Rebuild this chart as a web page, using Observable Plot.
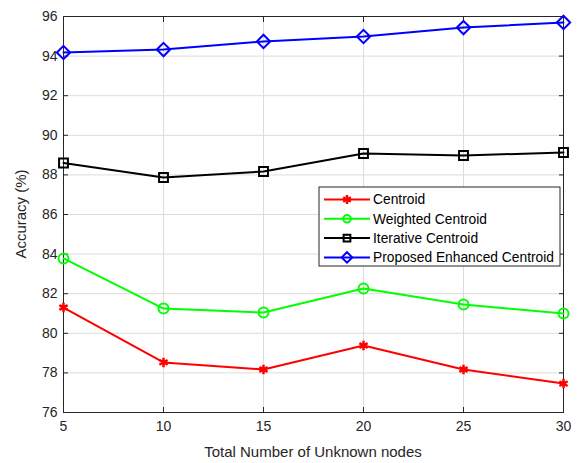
<!DOCTYPE html>
<html><head><meta charset="utf-8">
<script src="https://cdn.jsdelivr.net/npm/d3@7"></script>
<script src="https://cdn.jsdelivr.net/npm/@observablehq/plot@0.6"></script>
<style>body{margin:0;background:#fff;font-family:"Liberation Sans",Arial,sans-serif}</style>
</head><body><div id="chart"></div>
<script>
const nodes = [5, 10, 15, 20, 25, 30];
const seriesNames = ["Centroid", "Weighted Centroid", "Iterative Centroid", "Proposed Enhanced Centroid"];
const centroid = [81.3, 78.53, 78.17, 79.38, 78.17, 77.46];
const weighted = [83.78, 81.25, 81.05, 82.26, 81.45, 81.0];
const iterative = [88.6, 87.87, 88.17, 89.08, 88.98, 89.13];
const proposed = [94.18, 94.33, 94.74, 94.99, 95.44, 95.7];
const yTicks = [76, 78, 80, 82, 84, 86, 88, 90, 92, 94, 96];
const xTicks = [5, 10, 15, 20, 25, 30];

const colors = ["#ff0000", "#00ff00", "#000000", "#0000ff"];
const symbols = ["asterisk", "circle", "square", "diamond2"];
const allVals = [centroid, weighted, iterative, proposed];
const data = [];
seriesNames.forEach((s, i) => nodes.forEach((n, j) => data.push({series: s, x: n, y: allVals[i][j]})));

const W = 579, H = 463;
const ml = 63, mr = 16, mt = 16, mb = 51;
const axisColor = "#262626";

const inward = (anchor) => anchor === "left" || anchor === "right"
  ? Plot.axisY({anchor, ticks: yTicks, tickSize: -5, tickFormat: () => "", label: null, stroke: axisColor})
  : Plot.axisX({anchor, ticks: xTicks, tickSize: -5, tickFormat: () => "", label: null, stroke: axisColor});

const chart = Plot.plot({
  width: W, height: H,
  marginLeft: ml, marginRight: mr, marginTop: mt, marginBottom: mb,
  style: {fontFamily: "Liberation Sans, Arial, sans-serif", background: "#fff"},
  x: {domain: [5, 30]},
  y: {domain: [76, 96]},
  marks: [
    Plot.gridX(xTicks, {stroke: "#dcdcdc", strokeOpacity: 1}),
    Plot.gridY(yTicks, {stroke: "#dcdcdc", strokeOpacity: 1}),
    Plot.axisY({ticks: yTicks, tickSize: 0, tickPadding: 6, fontSize: 14, fill: axisColor, label: null}),
    Plot.axisX({ticks: xTicks, tickSize: 0, tickPadding: 9, fontSize: 14, fill: axisColor, label: null}),
    inward("left"), inward("right"), inward("top"), inward("bottom"),
    Plot.frame({stroke: axisColor, strokeWidth: 1}),
    ...seriesNames.map((s, i) => Plot.line(data.filter(d => d.series === s), {x: "x", y: "y", stroke: colors[i], strokeWidth: 2})),
    ...seriesNames.map((s, i) => Plot.dot(data.filter(d => d.series === s), {
      x: "x", y: "y", stroke: colors[i], symbol: () => symbols[i],
      fill: i === 0 ? colors[i] : "none",
      r: i === 0 ? 4.5 : (i === 3 ? 6 : 5), strokeWidth: i === 0 ? 2.5 : 2
    }))
  ]
});

const svg = d3.select(chart);
// axis titles
svg.append("text").attr("x", ml + (W - ml - mr) / 2).attr("y", H - 6)
  .attr("text-anchor", "middle").attr("font-size", 15).attr("fill", axisColor)
  .text("Total Number of Unknown nodes");
svg.append("text").attr("transform", `translate(26,${mt + (H - mt - mb) / 2}) rotate(-90)`)
  .attr("text-anchor", "middle").attr("font-size", 15).attr("fill", axisColor)
  .text("Accuracy (%)");

// legend
const lg = svg.append("g").attr("text-anchor", "start");
const lx = 319, ly = 187, lw = 241, lh = 79;
lg.append("rect").attr("x", lx).attr("y", ly).attr("width", lw).attr("height", lh)
  .attr("fill", "#fff").attr("stroke", axisColor).attr("stroke-width", 1);
const symGen = [d3.symbolAsterisk, d3.symbolCircle, d3.symbolSquare, d3.symbolDiamond2];
seriesNames.forEach((s, i) => {
  const yy = ly + 12.5 + i * 19.3;
  lg.append("line").attr("x1", lx + 5).attr("x2", lx + 51).attr("y1", yy).attr("y2", yy)
    .attr("stroke", colors[i]).attr("stroke-width", 2);
  const size = i === 0 ? 55 : (i === 3 ? 70 : 45);
  lg.append("path").attr("d", d3.symbol(symGen[i], size)())
    .attr("transform", `translate(${lx + 28},${yy})`)
    .attr("stroke", colors[i]).attr("stroke-width", i === 0 ? 2.5 : 2)
    .attr("fill", i === 0 ? colors[i] : "none");
  lg.append("text").attr("x", lx + 54).attr("y", yy).attr("dy", "0.35em")
    .attr("text-anchor", "start").attr("font-size", 13.8).attr("fill", "#000").text(s);
});

document.getElementById("chart").appendChild(chart);
</script>
</body></html>
